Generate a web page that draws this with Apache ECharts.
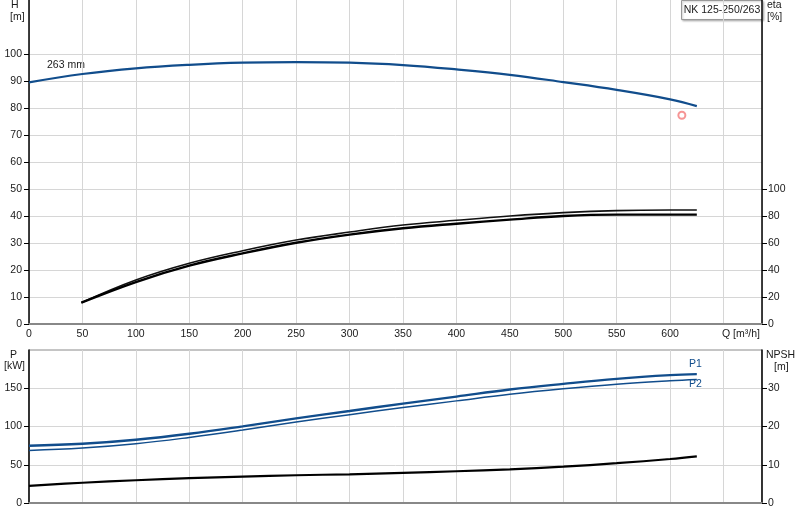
<!DOCTYPE html>
<html><head><meta charset="utf-8">
<script src="https://cdn.jsdelivr.net/npm/echarts@6/dist/echarts.min.js"></script>
<style>html,body{margin:0;padding:0;background:#fff}#c{width:800px;height:520px}</style>
</head><body><div id="c"></div>
<script>
// ---- data ----
const title = 'NK 125-250/263';
const qAxisTicks = [0,50,100,150,200,250,300,350,400,450,500,550,600];
const hTicks = [0,10,20,30,40,50,60,70,80,90,100];
const etaTicks = [0,20,40,60,80,100];
const pTicks = [0,50,100,150];
const npshTicks = [0,10,20,30];

const qH = [0,50,100,150,200,250,300,350,400,450,500,550,600,625];
const hVals = [89.5,92.6,94.7,96.0,96.8,97.0,96.8,95.9,94.3,92.3,89.6,86.7,83.2,80.7];

const qEta = [49,100,150,200,250,300,350,400,450,500,550,600,625];
const eta1 = [15.8,32.6,45.0,54.3,62.2,68.1,73.3,76.8,80.0,82.5,84.0,84.4,84.4];
const eta2 = [15.8,31.1,43.2,52.3,60.2,66.2,70.9,74.3,77.3,80.0,81.0,81.0,81.0];

const dutyPoint = [611, 77.3];

const qP = [0,50,100,150,200,250,300,350,400,450,500,550,600,625];
const p1 = [74.8,77.4,82.7,90.5,100.2,110.7,120.3,129.9,139.1,148.3,155.7,162.3,167.1,168.4];
const p2 = [68.7,71.8,77.4,85.7,95.4,105.9,115.5,124.7,133.5,142.1,149.2,155.2,159.7,161.4];
const npsh = [4.46,5.3,5.95,6.5,6.9,7.26,7.5,7.87,8.3,8.8,9.5,10.4,11.5,12.2];

const zip = (xs, ys) => xs.map((x, i) => [x, ys[i]]);

const FONT = 'Liberation Sans, Arial, sans-serif';
const FS = 10.5;
const BLUE = '#114d8c';
const GRID = '#d6d6d6';
const lbl = {fontFamily: FONT, fontSize: FS, color: '#1a1a1a'};
const tf = FS + 'px ' + FONT;

const chart = echarts.init(document.getElementById('c'), null, {renderer: 'canvas'});
chart.setOption({
  animation: false,
  backgroundColor: '#fff',
  grid: [
    {left: 29, right: 38, top: 0, height: 324, show: false},
    {left: 29, right: 38, top: 350, height: 153, show: true, borderColor: '#8a8a8a', borderWidth: 1, backgroundColor: 'transparent'}
  ],
  xAxis: [
    {gridIndex: 0, type: 'value', min: 0, max: 686, interval: 50,
     axisLine: {onZero: false, lineStyle: {color: '#888', width: 2}},
     axisTick: {show: false},
     axisLabel: Object.assign({margin: 5, customValues: qAxisTicks}, lbl),
     splitLine: {lineStyle: {color: GRID, width: 1}}},
    {gridIndex: 1, type: 'value', min: 0, max: 686, interval: 50,
     axisLine: {onZero: false, lineStyle: {color: '#888', width: 2}},
     axisTick: {show: false},
     axisLabel: {show: false},
     splitLine: {lineStyle: {color: GRID, width: 1}}}
  ],
  yAxis: [
    {gridIndex: 0, type: 'value', min: 0, max: 120, interval: 10, position: 'left',
     axisLine: {show: true, onZero: false, lineStyle: {color: '#000', width: 1.5}},
     axisTick: {show: true, length: 5, customValues: hTicks, lineStyle: {color: '#000'}},
     axisLabel: Object.assign({margin: 7, customValues: hTicks}, lbl),
     splitLine: {lineStyle: {color: GRID, width: 1}}},
    {gridIndex: 0, type: 'value', min: 0, max: 240, interval: 20, position: 'right',
     axisLine: {show: true, onZero: false, lineStyle: {color: '#000', width: 1.5}},
     axisTick: {show: true, length: 5, customValues: etaTicks, lineStyle: {color: '#000'}},
     axisLabel: Object.assign({margin: 6, customValues: etaTicks}, lbl),
     splitLine: {show: false}},
    {gridIndex: 1, type: 'value', min: 0, max: 200, interval: 50, position: 'left',
     axisLine: {show: true, onZero: false, lineStyle: {color: '#000', width: 1.5}},
     axisTick: {show: true, length: 5, customValues: pTicks, lineStyle: {color: '#000'}},
     axisLabel: Object.assign({margin: 7, customValues: pTicks}, lbl),
     splitLine: {lineStyle: {color: GRID, width: 1}}},
    {gridIndex: 1, type: 'value', min: 0, max: 40, interval: 10, position: 'right',
     axisLine: {show: true, onZero: false, lineStyle: {color: '#000', width: 1.5}},
     axisTick: {show: true, length: 5, customValues: npshTicks, lineStyle: {color: '#000'}},
     axisLabel: Object.assign({margin: 6, customValues: npshTicks}, lbl),
     splitLine: {show: false}}
  ],
  series: [
    {name: 'H', type: 'line', xAxisIndex: 0, yAxisIndex: 0, smooth: 0.4, symbol: 'none',
     data: zip(qH, hVals), lineStyle: {color: BLUE, width: 2.2}},
    {name: 'eta1', type: 'line', xAxisIndex: 0, yAxisIndex: 1, smooth: 0.4, symbol: 'none',
     data: zip(qEta, eta1), lineStyle: {color: '#111', width: 1.6}},
    {name: 'eta2', type: 'line', xAxisIndex: 0, yAxisIndex: 1, smooth: 0.4, symbol: 'none',
     data: zip(qEta, eta2), lineStyle: {color: '#000', width: 2.4}},
    {name: 'duty', type: 'scatter', xAxisIndex: 0, yAxisIndex: 0, symbol: 'emptyCircle', symbolSize: 7,
     data: [dutyPoint], itemStyle: {color: '#f47a7a', borderColor: '#f47a7a', borderWidth: 1}},
    {name: 'P1', type: 'line', xAxisIndex: 1, yAxisIndex: 2, smooth: 0.4, symbol: 'none',
     data: zip(qP, p1), lineStyle: {color: BLUE, width: 2.4}},
    {name: 'P2', type: 'line', xAxisIndex: 1, yAxisIndex: 2, smooth: 0.4, symbol: 'none',
     data: zip(qP, p2), lineStyle: {color: BLUE, width: 1.5}},
    {name: 'NPSH', type: 'line', xAxisIndex: 1, yAxisIndex: 3, smooth: 0.4, symbol: 'none',
     data: zip(qP, npsh), lineStyle: {color: '#000', width: 2.2}}
  ],
  graphic: [
    {type: 'text', left: 11, top: 0, style: {text: 'H', font: tf, fill: '#1a1a1a'}},
    {type: 'text', left: 10, top: 12, style: {text: '[m]', font: tf, fill: '#1a1a1a'}},
    {type: 'text', left: 767, top: 0, style: {text: 'eta', font: tf, fill: '#1a1a1a'}},
    {type: 'text', left: 767, top: 12, style: {text: '[%]', font: tf, fill: '#1a1a1a'}},
    {type: 'text', left: 10, top: 350, style: {text: 'P', font: tf, fill: '#1a1a1a'}},
    {type: 'text', left: 4, top: 361, style: {text: '[kW]', font: tf, fill: '#1a1a1a'}},
    {type: 'text', left: 766, top: 350, style: {text: 'NPSH', font: tf, fill: '#1a1a1a'}},
    {type: 'text', left: 774, top: 362, style: {text: '[m]', font: tf, fill: '#1a1a1a'}},
    {type: 'text', left: 722, top: 329, style: {text: 'Q [m³/h]', font: tf, fill: '#1a1a1a'}},
    {type: 'text', left: 47, top: 60, style: {text: '263 mm', font: tf, fill: '#1a1a1a'}},
    {type: 'text', left: 689, top: 359, style: {text: 'P1', font: tf, fill: BLUE}},
    {type: 'text', left: 689, top: 379, style: {text: 'P2', font: tf, fill: BLUE}},
    {type: 'group', left: 681, top: 0, children: [
      {type: 'rect', shape: {x: 0, y: 0, width: 81, height: 19},
       style: {fill: '#fff', stroke: '#999', lineWidth: 1, shadowBlur: 2, shadowOffsetX: 1, shadowOffsetY: 1, shadowColor: 'rgba(0,0,0,0.25)'}},
      {type: 'text', x: 40.5, y: 9.5, style: {text: title, font: tf, fill: '#1a1a1a', align: 'center', verticalAlign: 'middle'}}
    ]}
  ]
});
</script>
</body></html>
